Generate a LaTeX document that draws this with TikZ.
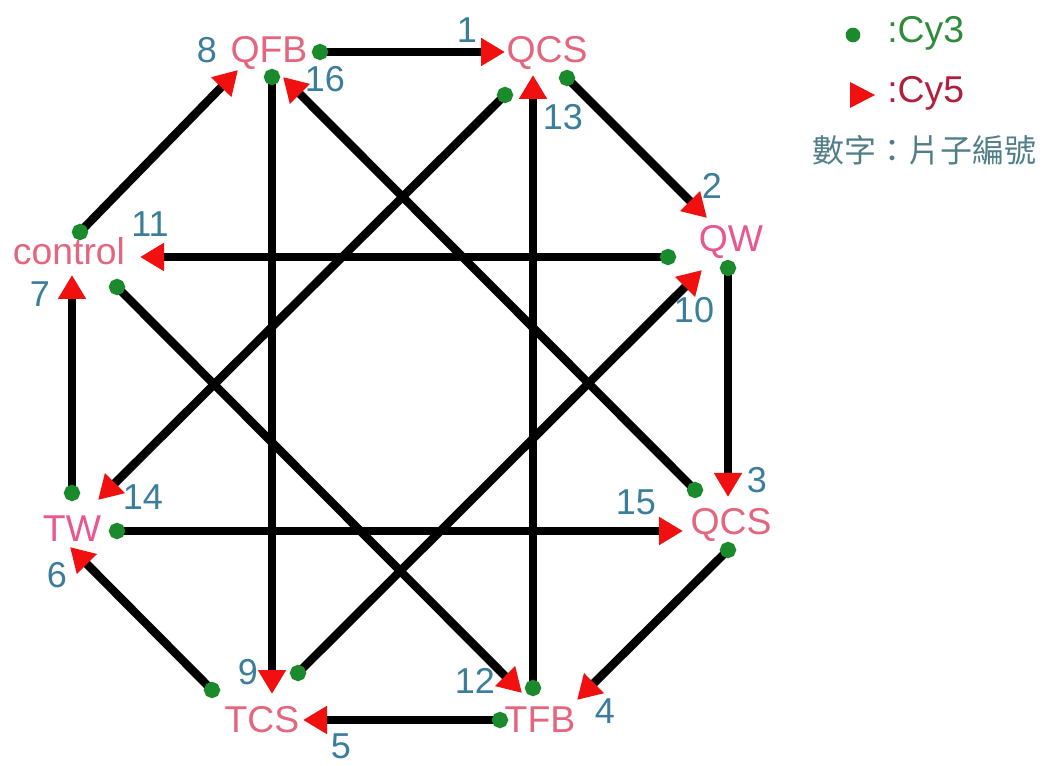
\documentclass[tikz,border=0pt]{standalone}
\usepackage{fontspec}
\setmainfont{Liberation Sans}
\newfontfamily\cjk{Noto Sans CJK TC}
\usetikzlibrary{arrows.meta}
\definecolor{lblcol}{HTML}{E4667E}
\definecolor{numcol}{HTML}{3A7E9C}
\definecolor{dotgreen}{HTML}{1B8A2C}
\definecolor{tipred}{HTML}{F01010}
\definecolor{cy3col}{HTML}{2E8B3A}
\definecolor{cy5col}{HTML}{B0203E}
\definecolor{cjkcol}{HTML}{4F7E88}
\tikzset{
  lbl/.style={text=lblcol, font=\fontsize{28}{28}\selectfont, inner sep=0pt, anchor=base},
  num/.style={text=numcol, font=\fontsize{27}{27}\selectfont, inner sep=0pt},
  conn/.style={line width=6.3pt, black, shorten <=-6pt,
    {Circle[color=dotgreen,length=12pt,width=12pt]}-{Triangle[color=tipred,length=18pt,width=20pt]}},
}
\begin{document}
\begin{tikzpicture}[x=0.75pt,y=-0.75pt]
\useasboundingbox (0,0) rectangle (1054,766);
\fill[white] (0,0) rectangle (1054,766);
% station labels
\node[lbl] (QFB) at (269,63) {QFB};
\node[lbl] (QCSt) at (547,63) {QCS};
\node[lbl, text=lblcol!85!magenta] (QW) at (731,252) {QW};
\node[lbl] (QCSr) at (731,535) {QCS};
\node[lbl] (TFB) at (540,732) {TFB};
\node[lbl] (TCS) at (262,732) {TCS};
\node[lbl, text=lblcol!85!magenta] (TW) at (72,542) {TW};
\node[lbl] (control) at (69,265) {control};
% endpoints
\coordinate (s1) at (320,52);  \coordinate (t1) at (505,52);
\coordinate (s2) at (567,78);  \coordinate (t2) at (707,218);
\coordinate (s3) at (728,268); \coordinate (t3) at (728,497);
\coordinate (s4) at (728,550); \coordinate (t4) at (577,700);
\coordinate (s5) at (500,720); \coordinate (t5) at (303,720);
\coordinate (s6) at (212,690); \coordinate (t6) at (70,547);
\coordinate (s7) at (72,493);  \coordinate (t7) at (72,275);
\coordinate (s8) at (80,232);  \coordinate (t8) at (238,70);
\coordinate (s9) at (272,77);  \coordinate (t9) at (272,694);
\coordinate (s10) at (298,673); \coordinate (t10) at (702,270);
\coordinate (s11) at (668,257); \coordinate (t11) at (140,257);
\coordinate (s12) at (117,287); \coordinate (t12) at (522,693);
\coordinate (s13) at (533,688); \coordinate (t13) at (533,75);
\coordinate (s14) at (505,95);  \coordinate (t14) at (98,500);
\coordinate (s15) at (117,531); \coordinate (t15) at (683,531);
\coordinate (s16) at (695,490); \coordinate (t16) at (283,77);
% connectors
\foreach \i in {1,...,16} { \draw[conn] (s\i) -- (t\i); }
% numbers
\node[num] (n1) at (467,30) {1};
\node[num] (n2) at (712,186) {2};
\node[num] (n3) at (757,480) {3};
\node[num] (n4) at (605,711) {4};
\node[num] (n5) at (341,746) {5};
\node[num] (n6) at (57,575) {6};
\node[num] (n7) at (40,294) {7};
\node[num] (n8) at (207,50) {8};
\node[num] (n9) at (248,672) {9};
\node[num] (n10) at (694,310) {10};
\node[num] (n11) at (150,224) {11};
\node[num] (n12) at (475,681) {12};
\node[num] (n13) at (563,117) {13};
\node[num] (n14) at (143,497) {14};
\node[num] (n15) at (636,502) {15};
\node[num] (n16) at (325,79) {16};
% legend
\fill[dotgreen] (853,35) circle (5.5pt);
\node[anchor=west, text=cy3col, font=\fontsize{28}{28}\selectfont, inner sep=0pt] (cy3) at (887,33) {:Cy3};
\fill[tipred] (850,82) -- (875,95) -- (850,108) -- cycle;
\node[anchor=west, text=cy5col, font=\fontsize{28}{28}\selectfont, inner sep=0pt] (cy5) at (887,93) {:Cy5};
\node[anchor=west, text=cjkcol, font=\cjk\fontsize{24}{24}\selectfont, inner sep=0pt] (cjk) at (812,150) {數字：片子編號};
\end{tikzpicture}
\end{document}
